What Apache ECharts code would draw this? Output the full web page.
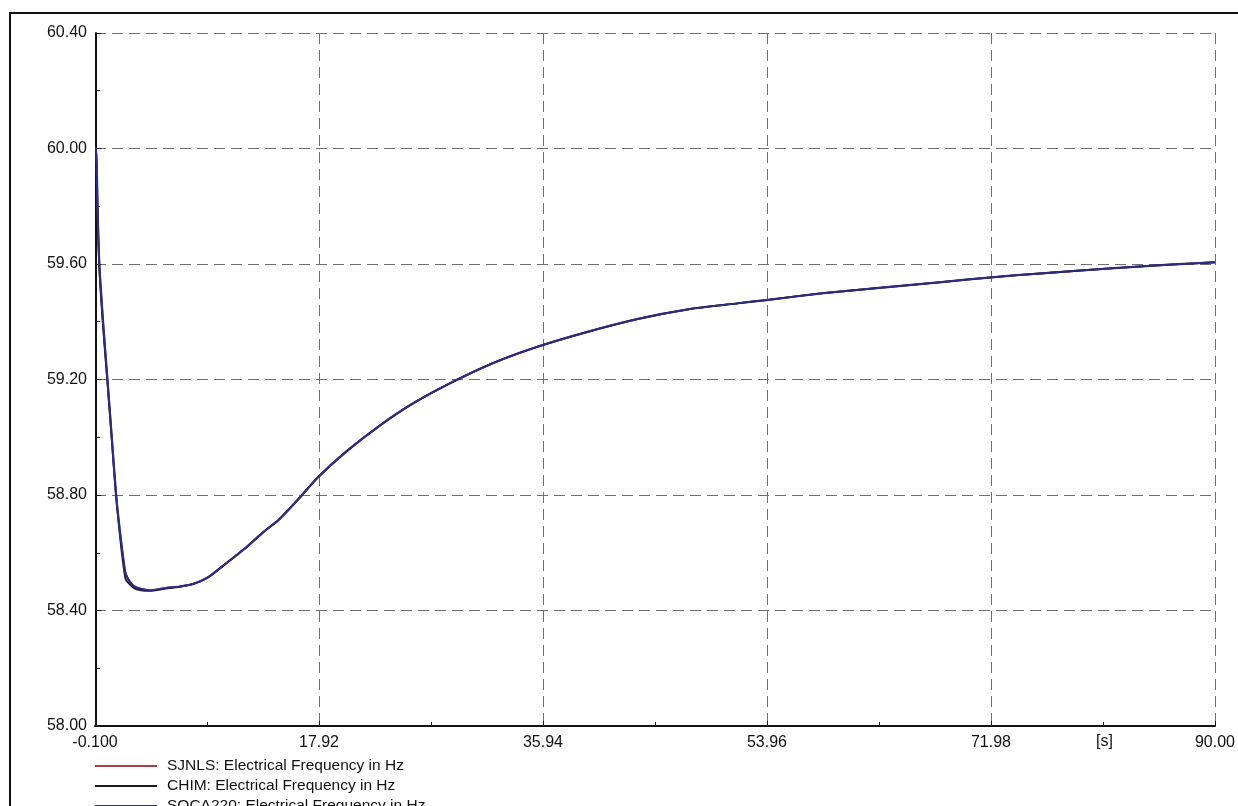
<!DOCTYPE html>
<html>
<head>
<meta charset="utf-8">
<script src="https://cdn.jsdelivr.net/npm/echarts@6/dist/echarts.min.js"></script>
<style>
  html, body { margin: 0; padding: 0; background: #fff; }
  #chart { width: 1238px; height: 806px; }
</style>
</head>
<body>
<div id="chart"></div>
<script>
// simulation time [s]
const timeS = [-0.1, 0.0, 0.1, 0.25, 0.55, 0.9, 1.25, 1.6, 2.0, 2.35, 2.7, 3.0, 3.6, 4.3, 5.6, 6.7, 7.8, 9.0,
  10.5, 12.1, 13.4, 14.7, 16.35, 17.8, 20.1, 22.8, 25.4, 28.6, 32.1, 35.6, 39.6, 43.6, 47.6, 51.6, 53.9,
  58.3, 63.2, 68.0, 72.0, 76.2, 81.6, 86.0, 90.0]

// frequency in Hz per bus
const sjnlsHz = [60.00, 60.00, 59.80, 59.60, 59.40, 59.20, 59.00, 58.80, 58.64, 58.53, 58.50, 58.485, 58.475, 58.47,
  58.478, 58.483, 58.492, 58.515, 58.565, 58.62, 58.67, 58.715, 58.79, 58.86, 58.95, 59.04, 59.115, 59.19, 59.26,
  59.315, 59.366, 59.41, 59.443, 59.464, 59.475, 59.498, 59.518, 59.537, 59.554, 59.568, 59.585, 59.597, 59.606]
const chimHz = [60.00, 60.00, 59.79, 59.58, 59.38, 59.19, 58.99, 58.79, 58.62, 58.51, 58.49, 58.478, 58.47, 58.468,
  58.476, 58.482, 58.492, 58.515, 58.565, 58.62, 58.67, 58.715, 58.79, 58.86, 58.95, 59.04, 59.115, 59.19, 59.26,
  59.315, 59.366, 59.41, 59.443, 59.464, 59.475, 59.498, 59.518, 59.537, 59.554, 59.568, 59.585, 59.597, 59.606]
const soca220Hz = [60.00, 60.00, 59.80, 59.60, 59.40, 59.20, 59.00, 58.80, 58.64, 58.53, 58.50, 58.485, 58.475, 58.47,
  58.478, 58.483, 58.492, 58.515, 58.565, 58.62, 58.67, 58.715, 58.79, 58.86, 58.95, 59.04, 59.115, 59.19, 59.26,
  59.315, 59.366, 59.41, 59.443, 59.464, 59.475, 59.498, 59.518, 59.537, 59.554, 59.568, 59.585, 59.597, 59.606]

const seriesNames = ['SJNLS: Electrical Frequency in Hz', 'CHIM: Electrical Frequency in Hz', 'SOCA220: Electrical Frequency in Hz']
const seriesColors = ['#a8404c', '#1c1c1c', '#2e2c80']

const xTickLabels = ['-0.100', '17.92', '35.94', '53.96', '71.98', '90.00']

const pair = (vals) => timeS.map((t, i) => [t, vals[i]])

const chart = echarts.init(document.getElementById('chart'))
const font = 'Liberation Sans, Arial, sans-serif'
const gridDash = { color: '#6e6e6e', type: [11, 6], width: 1 }

// one legend block per row, stacked like the original key under the axis
const legendRows = seriesNames.map((name, k) => ({
  orient: 'vertical',
  left: 90,
  top: 753 + k * 20,
  itemWidth: 62,
  itemHeight: 2,
  icon: 'rect',
  data: [name],
  textStyle: { color: '#111', fontFamily: font, fontSize: 15.5, padding: [0, 0, 0, 5] }
}))

chart.setOption({
  animation: false,
  backgroundColor: '#fff',
  grid: { left: 95, right: 20, top: 33, bottom: 80 },
  xAxis: {
    type: 'value',
    min: -0.1,
    max: 90,
    interval: 18.02,
    axisLine: { lineStyle: { color: '#111', width: 2 } },
    axisTick: { inside: true, length: 5, lineStyle: { color: '#111' } },
    minorTick: { show: true, splitNumber: 2, length: 4, lineStyle: { color: '#111' } },
    splitLine: { show: true, lineStyle: gridDash },
    axisLabel: {
      color: '#111', fontFamily: font, fontSize: 16, margin: 9,
      formatter: (v, i) => xTickLabels[i] !== undefined ? xTickLabels[i] : v.toFixed(2)
    }
  },
  yAxis: {
    type: 'value',
    min: 58,
    max: 60.4,
    interval: 0.4,
    axisLine: { show: true, lineStyle: { color: '#111', width: 2 } },
    axisTick: { show: true, inside: true, length: 5, lineStyle: { color: '#111' } },
    minorTick: { show: true, splitNumber: 2, length: 4, lineStyle: { color: '#111' } },
    splitLine: { show: true, lineStyle: gridDash },
    axisLabel: { color: '#111', fontFamily: font, fontSize: 16, margin: 8, formatter: v => v.toFixed(2) }
  },
  legend: legendRows,
  graphic: [
    {
      type: 'rect', silent: true, z: -1,
      shape: { x: 10, y: 13, width: 1260, height: 830 },
      style: { fill: 'none', stroke: '#111', lineWidth: 2 }
    },
    {
      type: 'text', left: 1096, top: 734,
      style: { text: '[s]', fill: '#111', font: '16px Liberation Sans, Arial, sans-serif' }
    }
  ],
  series: [sjnlsHz, chimHz, soca220Hz].map((vals, k) => ({
    name: seriesNames[k],
    type: 'line',
    data: pair(vals),
    showSymbol: false,
    smooth: 0.2,
    color: seriesColors[k],
    lineStyle: { width: k === 2 ? 2.2 : 1.8, color: seriesColors[k] },
    z: 2 + k
  }))
})
</script>
</body>
</html>
